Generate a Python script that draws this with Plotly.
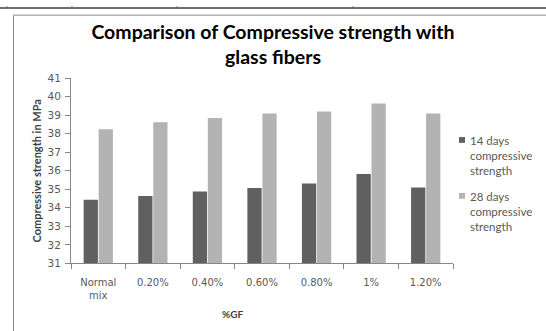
import plotly.graph_objects as go

# ---- data ----
categories = ["Normal<br>mix", "0.20%", "0.40%", "0.60%", "0.80%", "1%", "1.20%"]
strength_14_days = [34.43, 34.64, 34.88, 35.07, 35.31, 35.83, 35.10]
strength_28_days = [38.24, 38.62, 38.86, 39.10, 39.21, 39.64, 39.10]
series_names = ["14 days<br>compressive<br>strength", "28 days<br>compressive<br>strength"]
series_colors = ["#606060", "#b3b3b3"]
y_range = [31, 41]

W, H = 546, 331


def px(x):
    """pixel x -> paper fraction"""
    return x / W


def py(y):
    """pixel y (from top) -> paper fraction"""
    return 1 - y / H


TICK_FONT = dict(family="DejaVu Sans", size=10, color="#595959")
AXIS_COLOR = "#868686"

fig = go.Figure()
for name, vals, col in zip(series_names, [strength_14_days, strength_28_days], series_colors):
    fig.add_trace(go.Bar(
        x=categories, y=vals, name=name,
        marker=dict(color=col, line=dict(width=0)),
        showlegend=False,
    ))

shapes = []
# remnant of the table row above the chart
shapes.append(dict(type="line", xref="paper", yref="paper",
                   x0=0, x1=1, y0=py(2), y1=py(2),
                   line=dict(color="#6e6e6e", width=2)))
for xv in [7, 72, 177, 353]:
    shapes.append(dict(type="line", xref="paper", yref="paper",
                       x0=px(xv), x1=px(xv), y0=py(0), y1=py(3),
                       line=dict(color="#6e6e6e", width=1)))
# chart frame
shapes.append(dict(type="rect", xref="paper", yref="paper",
                   x0=px(13.5), x1=px(560), y0=py(9.5), y1=py(345),
                   line=dict(color="#8c8c8c", width=1), fillcolor="rgba(0,0,0,0)",
                   layer="below"))

annotations = []
# custom legend: small squares with wrapped labels
legend_rows = [139, 197]
for name, col, yrow in zip(series_names, series_colors, legend_rows):
    shapes.append(dict(type="rect", xref="paper", yref="paper",
                       x0=px(459), x1=px(465), y0=py(yrow - 3), y1=py(yrow + 3),
                       line=dict(width=0), fillcolor=col))
    annotations.append(dict(
        text=name, xref="paper", yref="paper",
        x=px(468), y=py(yrow - 8), xanchor="left", yanchor="top",
        align="left", showarrow=False,
        font=dict(family="Lato", size=11.5, color="#595959"),
    ))

# x-axis title
annotations.append(dict(
    text="<b>%GF</b>", xref="paper", yref="paper",
    x=px(232), y=py(320), xanchor="center", yanchor="middle",
    showarrow=False, font=dict(family="Lato", size=10, color="#404040"),
))

fig.update_layout(
    width=W, height=H,
    margin=dict(l=0, r=0, t=0, b=0),
    paper_bgcolor="white", plot_bgcolor="white",
    barmode="group", bargap=0.45, bargroupgap=0.05,
    title=dict(
        text="<b>Comparison of Compressive strength with<br>glass fibers</b>",
        x=px(273), xanchor="center", y=py(39), yanchor="middle",
        font=dict(family="Lato", size=19.5, color="#000000"),
    ),
    xaxis=dict(
        domain=[px(71), px(453)],
        type="category",
        showline=True, linecolor=AXIS_COLOR, linewidth=1,
        ticks="outside", ticklen=5, tickcolor=AXIS_COLOR,
        tickson="boundaries", ticklabelstandoff=10,
        tickfont=TICK_FONT,
        showgrid=False, zeroline=False,
    ),
    yaxis=dict(
        domain=[py(267), py(75)],
        range=y_range, dtick=1,
        showline=True, linecolor=AXIS_COLOR, linewidth=1,
        ticks="outside", ticklen=5, tickcolor=AXIS_COLOR,
        tickfont=dict(family="DejaVu Sans", size=10.5, color="#595959"),
        ticklabelstandoff=2,
        showgrid=False, zeroline=False,
        title=dict(text="<b>Compressive strength in MPa</b>",
                   font=dict(family="Lato", size=11, color="#404040"),
                   standoff=3),
    ),
    shapes=shapes,
    annotations=annotations,
)

fig.write_html("out.html")
